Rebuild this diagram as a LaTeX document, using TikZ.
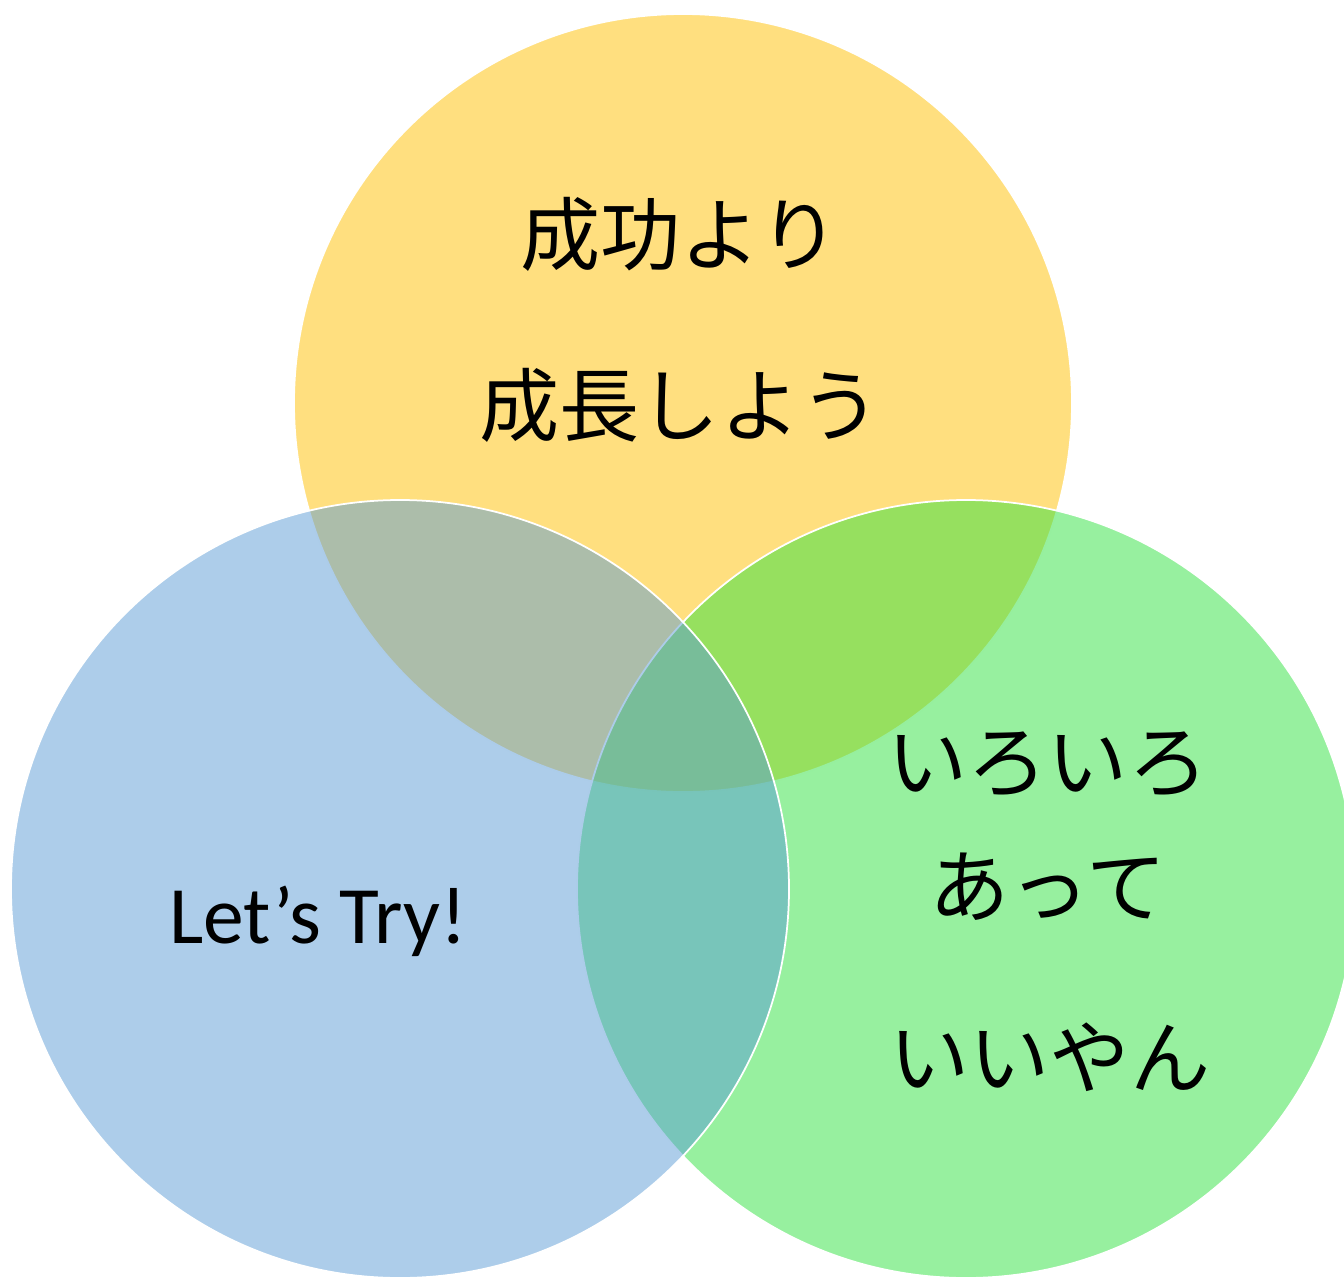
\documentclass[tikz,border=0pt]{standalone}
\usepackage{fontspec}
\setmainfont{Carlito}
\newfontfamily\jpfont{Noto Sans CJK JP}
\definecolor{topyellow}{HTML}{FFC000}
\definecolor{leftblue}{HTML}{5B9BD5}
\definecolor{rightgreen}{RGB}{47,225,63}
\tikzset{
  venn/.style={draw=white,line width=0.5pt,fill opacity=0.5},
  jp/.style={inner sep=0pt,font=\jpfont\fontsize{22.8}{27}\selectfont},
  en/.style={inner sep=0pt,font=\fontsize{23.2}{27}\selectfont}
}

\begin{document}
\begin{tikzpicture}
        \useasboundingbox (0,0) rectangle (13.44,-12.78);
        \clip (0,0) rectangle (13.44,-12.78);
        \path[venn,fill=topyellow] (6.83,-4.03) circle (3.89);
        \path[venn,fill=rightgreen] (9.66,-8.89) circle (3.89);
        \path[venn,fill=leftblue] (4.00,-8.89) circle (3.89);

        \node[jp] (seiko) at (6.80,-2.34) {成功より};
        \node[jp] (seicho) at (6.80,-4.05) {成長しよう};
        \node[en,anchor=base] (letstry) at (3.18,-9.43) {Let’s Try!};
        \node[jp] (iroiro) at (10.48,-7.64) {いろいろ};
        \node[jp] (atte) at (10.48,-8.87) {あって};
        \node[jp] (iiyan) at (10.50,-10.57) {いいやん};
\end{tikzpicture}
\end{document}
